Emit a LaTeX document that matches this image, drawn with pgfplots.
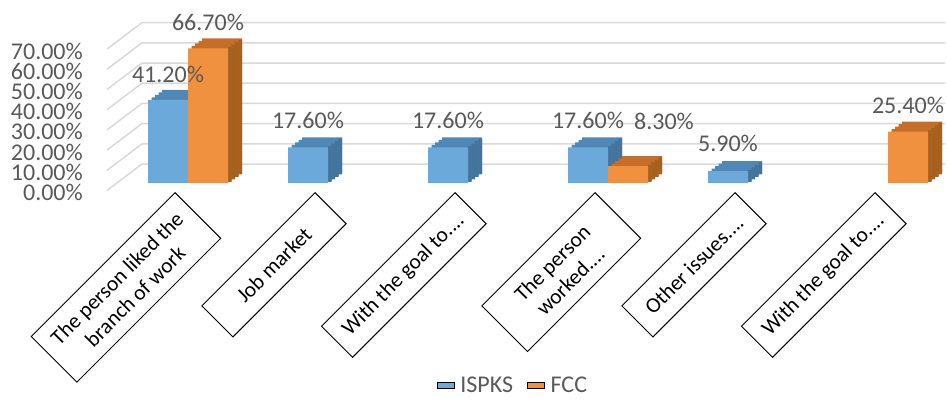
\documentclass[border=0pt]{standalone}
\usepackage{pgfplots}
\pgfplotsset{compat=1.18}
\usepackage{pgfplotstable}
\usepackage{fontspec}
\setmainfont{Carlito}
\definecolor{bfront}{HTML}{6CA9DB}
\definecolor{btop}{HTML}{4F88B7}
\definecolor{bside}{HTML}{43749E}
\definecolor{ofront}{HTML}{F0913F}
\definecolor{otop}{HTML}{C56D29}
\definecolor{oside}{HTML}{A6611F}
\definecolor{gridc}{HTML}{D9D9D9}
\definecolor{txt}{HTML}{595959}
\newcommand{\fd}{....}
\newcommand{\bigf}{\fontsize{24}{28}\selectfont}

\pgfplotstableread{
x y lx ly
0 41.2 -20 25
1 17.6 -20 27
2 17.6 -20 27
3 17.6 -20 27
4 5.9 -20 27.5
}\ispks
\pgfplotstableread{
x y lx ly
0 66.7 20 25.5
3 8.3 56 45
5 25.4 20 26
}\fcc

% #1 table, #2 top colour, #3 side colour, #4 bar shift (number, pt)
\newcommand{\depthfaces}[4]{%
  \addplot[ybar, bar width=40pt, bar shift=#4pt, fill=#2, draw=none, forget plot, xshift=14pt, yshift=10pt] table[x=x,y=y] {#1};
  \addplot[ybar, bar width=40pt, bar shift=#4pt, fill=#2, draw=none, forget plot, xshift=10.5pt, yshift=7.5pt] table[x=x,y=y] {#1};
  \addplot[ybar, bar width=40pt, bar shift=#4pt, fill=#2, draw=none, forget plot, xshift=7pt, yshift=5pt] table[x=x,y=y] {#1};
  \addplot[ybar, bar width=40pt, bar shift=#4pt, fill=#2, draw=none, forget plot, xshift=3.5pt, yshift=2.5pt] table[x=x,y=y] {#1};
  \addplot[ybar, bar width=3.6pt, bar shift=#4pt+21.75pt, fill=#3, draw=none, forget plot, yshift=1.25pt] table[x=x,y=y] {#1};
  \addplot[ybar, bar width=3.6pt, bar shift=#4pt+25.25pt, fill=#3, draw=none, forget plot, yshift=3.75pt] table[x=x,y=y] {#1};
  \addplot[ybar, bar width=3.6pt, bar shift=#4pt+28.75pt, fill=#3, draw=none, forget plot, yshift=6.25pt] table[x=x,y=y] {#1};
  \addplot[ybar, bar width=3.6pt, bar shift=#4pt+32.25pt, fill=#3, draw=none, forget plot, yshift=8.75pt] table[x=x,y=y] {#1};
}

\begin{document}
\begin{tikzpicture}
\begin{axis}[
  at={(107pt,219pt)}, anchor=south west,
  scale only axis, width=803pt, height=141.4pt,
  xmin=-0.5786, xmax=5.1571, ymin=0, ymax=70,
  clip=false,
  axis line style={draw=none},
  tick style={draw=none},
  major tick length=0pt,
  /pgf/number format/assume math mode=true,
  ytick={0,10,20,30,40,50,60,70},
  yticklabel={\pgfmathprintnumber[fixed,fixed zerofill,precision=2]{\tick}\%},
  yticklabel style={anchor=east, inner sep=0pt, xshift=-24pt, yshift=-9.5pt,
    font=\bigf, text=txt},
  xtick={0,1,2,3,4,5},
  xticklabels={{The person liked the\\branch of work},{Job market},{With the goal to\fd},{The person\\worked\fd},{Other issues\fd},{With the goal to\fd}},
  xticklabel style={xshift=-13pt, yshift=-9pt, rotate=45, anchor=north east,
    draw=black, line width=0.9pt, align=center, inner xsep=13pt, inner ysep=12pt,
    minimum width=160pt, minimum height=44pt,
    font=\fontsize{21.5}{25.5}\selectfont, text=black},
  legend style={at={(0.5056,-1.4286)}, anchor=center, draw=none, fill=none,
    legend columns=-1, font=\bigf, text=txt,
    /tikz/every odd column/.append style={column sep=4pt},
    /tikz/every even column/.append style={column sep=12pt}},
  legend image code/.code={\fill[#1,draw=none] (0pt,-7pt) rectangle (14pt,7pt);},
]
% back wall and side wall grid lines
\pgfplotsinvokeforeach{0,10,20,30,40,50,60,70}{
  \draw[gridc, line width=1.5pt]
    ([yshift=-7.5pt]axis cs:-0.5786,#1) --
    ([xshift=35pt,yshift=19pt]axis cs:-0.5786,#1) --
    ([xshift=35pt,yshift=19pt]axis cs:5.1571,#1);
}
% ISPKS
\depthfaces{\ispks}{btop}{bside}{-20}
\addplot[ybar, bar width=40pt, bar shift=-20pt, fill=bfront, draw=none, area legend] table[x=x,y=y] {\ispks};
\addlegendentry{ISPKS}
% FCC
\depthfaces{\fcc}{otop}{oside}{20}
\addplot[ybar, bar width=40pt, bar shift=20pt, fill=ofront, draw=none, area legend] table[x=x,y=y] {\fcc};
\addlegendentry{FCC}
% data labels on top
\addplot[draw=none, mark=none, forget plot,
  nodes near coords={\bigf\pgfmathprintnumber[fixed,fixed zerofill,precision=2]{\pgfplotspointmeta}\%},
  point meta=y,
  visualization depends on={\thisrow{lx}\as\lx},
  visualization depends on={\thisrow{ly}\as\ly},
  nodes near coords style={anchor=center, xshift=\lx pt, yshift=\ly pt,
    font=\bigf, text=txt, inner sep=0pt}]
  table[x=x,y=y] {\ispks};
\addplot[draw=none, mark=none, forget plot,
  nodes near coords={\bigf\pgfmathprintnumber[fixed,fixed zerofill,precision=2]{\pgfplotspointmeta}\%},
  point meta=y,
  visualization depends on={\thisrow{lx}\as\lx},
  visualization depends on={\thisrow{ly}\as\ly},
  nodes near coords style={anchor=center, xshift=\lx pt, yshift=\ly pt,
    font=\bigf, text=txt, inner sep=0pt}]
  table[x=x,y=y] {\fcc};
\end{axis}
\pgfresetboundingbox
\path[use as bounding box] (0,0) rectangle (948pt,402pt);
\end{tikzpicture}
\end{document}
